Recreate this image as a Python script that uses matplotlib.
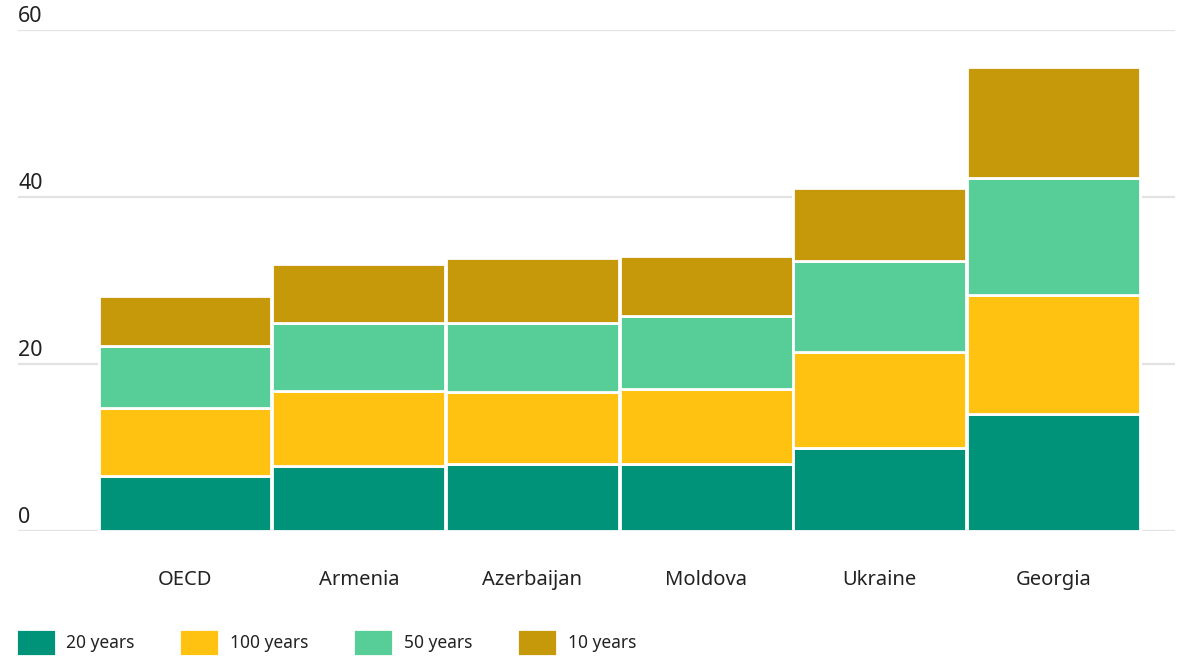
import numpy as np
import matplotlib.pyplot as plt

plt.rcParams['font.family'] = ['Noto Sans', 'DejaVu Sans']

countries = ["OECD", "Armenia", "Azerbaijan", "Moldova", "Ukraine", "Georgia"]
series_names = ["20 years", "100 years", "50 years", "10 years"]
years_20 = [6.6, 7.8, 8.0, 8.0, 9.9, 14.0]
years_100 = [8.1, 9.0, 8.6, 9.05, 11.5, 14.3]
years_50 = [7.4, 8.1, 8.3, 8.65, 10.9, 14.0]
years_10 = [6.0, 7.1, 7.85, 7.25, 8.8, 13.3]
yticks = [0, 20, 40, 60]

colors = ["#009379", "#FFC211", "#57CD98", "#C6990A"]

fig = plt.figure(figsize=(11.85, 6.58), dpi=100)
ax = fig.add_axes([0.0152, 0.193, 0.9764, 0.7614])

x = np.arange(len(countries))
bottom = np.zeros(len(countries))
for name, vals, c in zip(series_names, [years_20, years_100, years_50, years_10], colors):
    ax.bar(x, vals, width=0.995, bottom=bottom, color=c, edgecolor="white",
           linewidth=2, label=name, zorder=3)
    bottom += np.array(vals)

ax.set_xlim(-0.962, 5.70)
ax.set_ylim(0, 60)
ax.set_yticks(yticks)
ax.yaxis.grid(True, color="#e3e3e3", linewidth=1.6, zorder=0)
ax.set_axisbelow(True)
ax.tick_params(axis="y", length=0, labelleft=False)
for v in yticks:
    ax.text(0.0, v + 0.4, str(v), transform=ax.get_yaxis_transform(),
            ha="left", va="bottom", fontsize=15.5, color="#222222")

ax.set_xticks(x)
ax.set_xticklabels(countries, fontsize=14.5, color="#222222")
ax.tick_params(axis="x", length=0, pad=28)
for s in ax.spines.values():
    s.set_visible(False)

fig.legend(loc="lower left", bbox_to_anchor=(0.0, -0.02), ncol=4, frameon=False,
           fontsize=12.5, handlelength=2.3, handleheight=2.0, handletextpad=0.6,
           columnspacing=2.6, labelcolor="#222222")

fig.savefig("out.png", dpi=100)
